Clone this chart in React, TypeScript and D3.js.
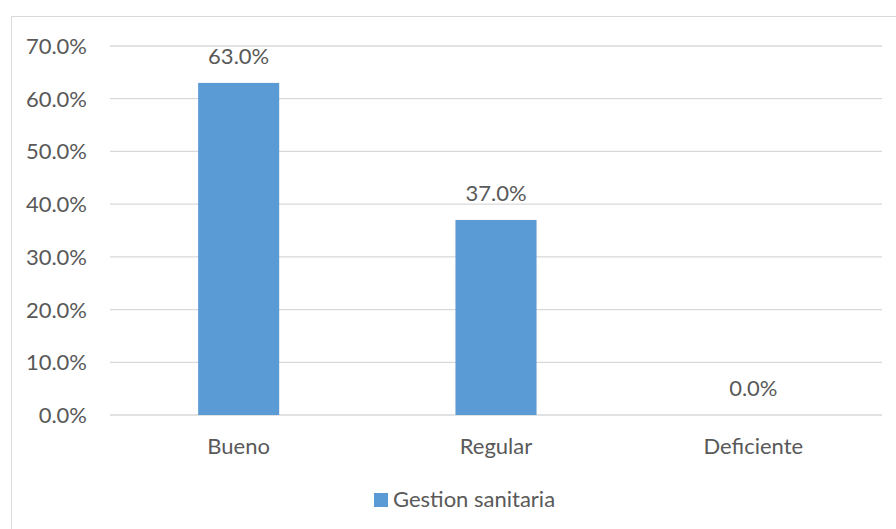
import React from "react"
import * as d3 from "d3"

const categories = ["Bueno", "Regular", "Deficiente"]
const values = [0.63, 0.37, 0.0]
const yTicks = [0, 0.1, 0.2, 0.3, 0.4, 0.5, 0.6, 0.7]
const seriesName = "Gestion sanitaria"

const W = 896
const H = 529
const font = "Lato, 'Open Sans', sans-serif"
const textColor = "#595959"
const barColor = "#5b9bd5"
const fs = 22

export default function App() {
    const left = 110
    const right = 882
    const top = 46
    const bottom = 415

    const x = d3.scaleBand().domain(categories).range([left, right]).paddingInner(0.685).paddingOuter(0.3425)
    const y = d3.scaleLinear().domain([0, 0.7]).range([bottom, top])
    const fmt = d3.format(".1%")

    return (
        <svg width={W} height={H} style={{ position: "absolute", left: 0, top: 0, background: "#fff" }} fontFamily={font}>
            <rect x={11.5} y={16.5} width={W + 10} height={H + 10} fill="#fff" stroke="#d9d9d9" strokeWidth={1} />
            <g className="grid">
                {yTicks.map(t => (
                    <line key={t} x1={left} x2={right} y1={y(t)} y2={y(t)} stroke="#d9d9d9" strokeWidth={1.3} />
                ))}
            </g>
            <g className="y-labels">
                {yTicks.map(t => (
                    <text key={t} x={87} y={y(t) + 8} textAnchor="end" fontSize={fs} fill={textColor}>
                        {fmt(t)}
                    </text>
                ))}
            </g>
            <g className="bars">
                {categories.map((c, i) => (
                    <rect key={c} x={x(c)} y={y(values[i])} width={x.bandwidth()} height={bottom - y(values[i])} fill={barColor} />
                ))}
            </g>
            <g className="values">
                {categories.map((c, i) => (
                    <text key={c} x={(x(c) as number) + x.bandwidth() / 2} y={y(values[i]) - 19} textAnchor="middle" fontSize={fs} fill={textColor}>
                        {fmt(values[i])}
                    </text>
                ))}
            </g>
            <g className="x-labels">
                {categories.map(c => (
                    <text key={c} x={(x(c) as number) + x.bandwidth() / 2} y={454} textAnchor="middle" fontSize={fs} fill={textColor}>
                        {c}
                    </text>
                ))}
            </g>
            <g className="legend">
                <rect x={374} y={493} width={14} height={14} fill={barColor} />
                <text x={393} y={507} fontSize={fs} fill={textColor}>{seriesName}</text>
            </g>
        </svg>
    )
}
